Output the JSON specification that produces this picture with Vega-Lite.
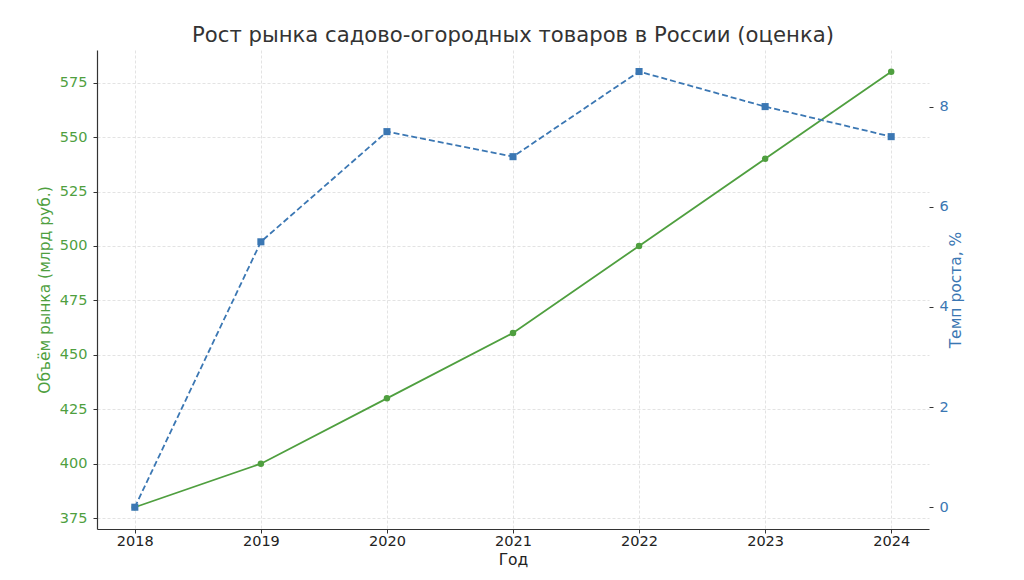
{
  "$schema": "https://vega.github.io/schema/vega-lite/v6.json",
  "autosize": {"type": "none"},
  "padding": {"left": 97, "top": 50, "right": 95, "bottom": 51},
  "width": 832,
  "height": 479,
  "background": "white",
  "config": {
    "view": {"stroke": null},
    "font": "DejaVu Sans",
    "axis": {
      "gridColor": "#dcdcdc",
      "gridDash": [3, 2],
      "gridWidth": 0.8,
      "labelFont": "DejaVu Sans",
      "titleFont": "DejaVu Sans",
      "labelFontSize": 14.5,
      "titleFontSize": 15.5,
      "titleFontWeight": "normal",
      "tickColor": "#333",
      "tickSize": 4,
      "domainColor": "#333",
      "domainWidth": 1.2
    }
  },
  "title": {
    "text": "Рост рынка садово-огородных товаров в России (оценка)",
    "fontSize": 21.2,
    "fontWeight": "normal",
    "color": "#333",
    "font": "DejaVu Sans",
    "offset": 4
  },
  "data": {
    "values": [
      {"year": 2018, "volume": 380, "growth": 0},
      {"year": 2019, "volume": 400, "growth": 5.3},
      {"year": 2020, "volume": 430, "growth": 7.5},
      {"year": 2021, "volume": 460, "growth": 7.0},
      {"year": 2022, "volume": 500, "growth": 8.7},
      {"year": 2023, "volume": 540, "growth": 8.0},
      {"year": 2024, "volume": 580, "growth": 7.4}
    ]
  },
  "encoding": {
    "x": {
      "field": "year",
      "type": "quantitative",
      "scale": {"domain": [2017.7, 2024.3], "nice": false, "zero": false},
      "axis": {
        "values": [2018, 2019, 2020, 2021, 2022, 2023, 2024],
        "format": "d",
        "title": "Год",
        "titleColor": "#222",
        "labelColor": "#222",
        "labelPadding": 1,
        "titlePadding": 5
      }
    }
  },
  "layer": [
    {
      "mark": {"type": "line", "color": "#4f9f3f", "strokeWidth": 1.8, "point": {"filled": true, "size": 42, "color": "#4f9f3f"}},
      "encoding": {
        "y": {
          "field": "volume",
          "type": "quantitative",
          "scale": {"domain": [370, 590], "nice": false, "zero": false},
          "axis": {
            "orient": "left",
            "values": [375, 400, 425, 450, 475, 500, 525, 550, 575],
            "title": "Объём рынка (млрд руб.)",
            "titleColor": "#4f9f3f",
            "labelColor": "#4f9f3f",
            "labelPadding": 6,
            "titlePadding": 7
          }
        }
      }
    },
    {
      "mark": {"type": "line", "color": "#3b77b3", "strokeWidth": 1.8, "strokeDash": [6, 3], "point": {"filled": true, "shape": "square", "size": 50, "color": "#3b77b3"}},
      "encoding": {
        "y": {
          "field": "growth",
          "type": "quantitative",
          "scale": {"domain": [-0.435, 9.13], "nice": false, "zero": false},
          "axis": {
            "orient": "right",
            "values": [0, 2, 4, 6, 8],
            "title": "Темп роста, %",
            "titleAngle": 270,
            "titleColor": "#3b77b3",
            "labelColor": "#3b77b3",
            "domain": false,
            "labelPadding": 6,
            "titlePadding": 15
          }
        }
      }
    }
  ],
  "resolve": {"scale": {"y": "independent"}}
}
